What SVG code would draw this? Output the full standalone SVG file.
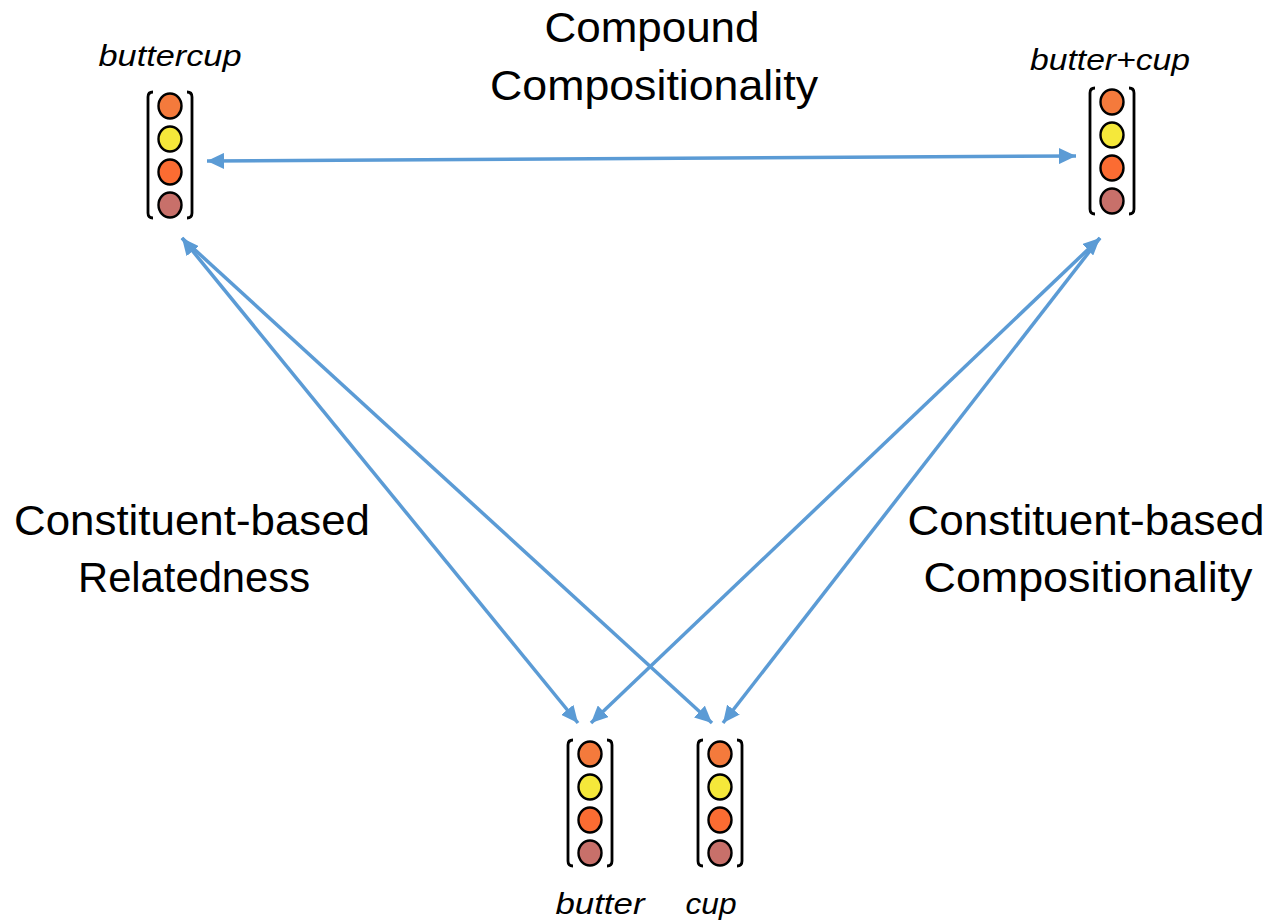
<svg xmlns="http://www.w3.org/2000/svg" width="1270" height="923" viewBox="0 0 1270 923">
  <style>
    .title { font-family: "Liberation Sans", Arial, sans-serif; font-size: 42px; fill: #000; text-anchor: middle; }
    .word { font-family: "Liberation Sans", Arial, sans-serif; font-size: 29px; font-style: italic; fill: #000; text-anchor: middle; }
    .br { fill: none; stroke: #000; stroke-width: 2.8; }
    .c1 { fill: #F47A3C; stroke: #000; stroke-width: 2.4; }
    .c2 { fill: #F5E83A; stroke: #000; stroke-width: 2.4; }
    .c3 { fill: #FB6C32; stroke: #000; stroke-width: 2.4; }
    .c4 { fill: #C8706A; stroke: #000; stroke-width: 2.4; }
    .link { fill: none; stroke: #5B9BD5; stroke-width: 3.5; }
  </style>
  <defs>
    <marker id="head" markerUnits="userSpaceOnUse" markerWidth="18" markerHeight="16" refX="17" refY="8" orient="auto-start-reverse">
      <path d="M0,0 L17,8 L0,16 Z" fill="#5B9BD5"/>
    </marker>
    <!-- one embedding vector: brackets and four cells, centred on x=0, top y=0 -->
    <g id="vec">
      <path class="br" d="M-17,0 Q-22,0 -22,5 L-22,121 Q-22,126 -17,126"/>
      <path class="br" d="M17,0 Q22,0 22,5 L22,121 Q22,126 17,126"/>
      <ellipse class="c1" cx="0" cy="14" rx="11.5" ry="12.5"/>
      <ellipse class="c2" cx="0" cy="47" rx="11.5" ry="12.5"/>
      <ellipse class="c3" cx="0" cy="80" rx="11.5" ry="12.5"/>
      <ellipse class="c4" cx="0" cy="113" rx="11.5" ry="12.5"/>
    </g>
  </defs>

  <text class="title" x="652" y="42" textLength="215" lengthAdjust="spacingAndGlyphs">Compound</text>
  <text class="title" x="654" y="100" textLength="328" lengthAdjust="spacingAndGlyphs">Compositionality</text>
  <text class="title" x="192" y="535" textLength="356" lengthAdjust="spacingAndGlyphs">Constituent-based</text>
  <text class="title" x="194" y="592" textLength="232" lengthAdjust="spacingAndGlyphs">Relatedness</text>
  <text class="title" x="1086" y="535" textLength="357" lengthAdjust="spacingAndGlyphs">Constituent-based</text>
  <text class="title" x="1088" y="592" textLength="329" lengthAdjust="spacingAndGlyphs">Compositionality</text>

  <g id="connectors">
    <line class="link" x1="207" y1="161" x2="1076" y2="156" marker-start="url(#head)" marker-end="url(#head)"/>
    <line class="link" x1="182" y1="238" x2="578" y2="723" marker-start="url(#head)" marker-end="url(#head)"/>
    <line class="link" x1="182" y1="238" x2="712" y2="723" marker-end="url(#head)"/>
    <line class="link" x1="1100" y1="238" x2="591" y2="723" marker-start="url(#head)" marker-end="url(#head)"/>
    <line class="link" x1="1100" y1="238" x2="723" y2="723" marker-end="url(#head)"/>
  </g>

  <g id="buttercup">
    <text class="word" x="170" y="66" textLength="143" lengthAdjust="spacingAndGlyphs">buttercup</text>
    <use href="#vec" x="170" y="92"/>
  </g>
  <g id="butter-plus-cup">
    <text class="word" x="1110" y="70" textLength="160" lengthAdjust="spacingAndGlyphs">butter+cup</text>
    <use href="#vec" x="1112" y="88"/>
  </g>
  <g id="butter">
    <text class="word" x="600" y="914" textLength="89" lengthAdjust="spacingAndGlyphs">butter</text>
    <use href="#vec" x="590" y="740"/>
  </g>
  <g id="cup">
    <text class="word" x="711" y="914" textLength="51" lengthAdjust="spacingAndGlyphs">cup</text>
    <use href="#vec" x="720" y="740"/>
  </g>
</svg>
